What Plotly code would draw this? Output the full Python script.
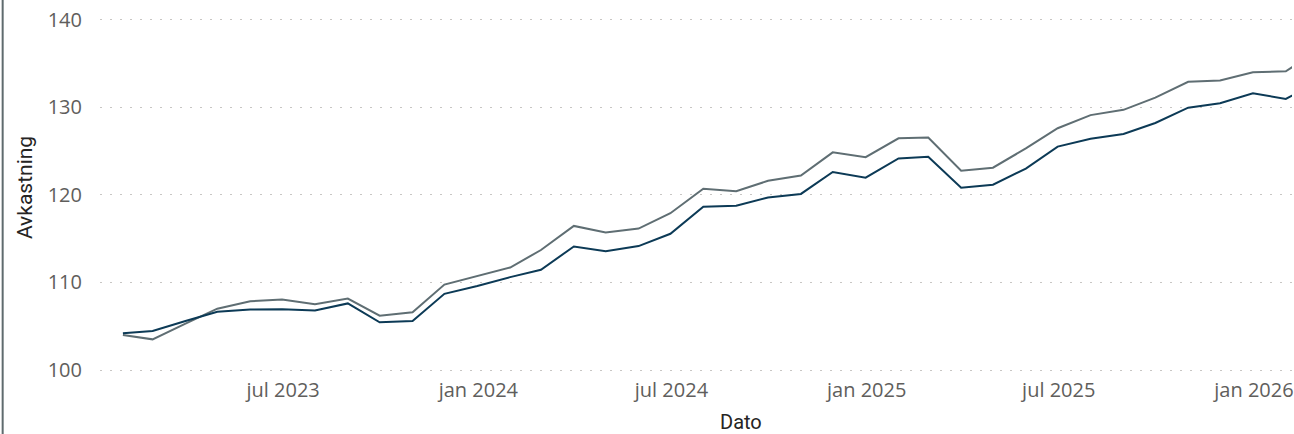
"""Avkastning over tid: portefølje mot referanse, linjediagram med Plotly."""

import pandas as pd
import plotly.graph_objects as go

# Månedsslutt-datoer; diagrammet fortsetter forbi høyre kant (feb 2026)
datoer = list(pd.date_range("2023-01-31", "2026-02-28", freq="ME").strftime("%Y-%m-%d"))

portefolje = [
    104.2, 104.45, 105.6, 106.65, 106.9, 106.95, 106.8, 107.6, 105.45, 105.6,
    108.7, 109.6, 110.6, 111.45, 114.1, 113.55, 114.15, 115.55, 118.65, 118.75,
    119.7, 120.1, 122.6, 121.95, 124.15, 124.35, 120.8, 121.15, 123.0, 125.5,
    126.4, 126.95, 128.2, 129.95, 130.45, 131.6, 130.95, 132.7,
]
referanse = [
    104.0, 103.5, 105.3, 107.0, 107.85, 108.05, 107.5, 108.15, 106.2, 106.6,
    109.75, 110.75, 111.7, 113.7, 116.45, 115.7, 116.15, 117.9, 120.7, 120.4,
    121.6, 122.2, 124.85, 124.3, 126.45, 126.55, 122.75, 123.1, 125.3, 127.6,
    129.1, 129.7, 131.1, 132.9, 133.05, 134.0, 134.1, 136.3,
]

y_ticks = [100, 110, 120, 130, 140]
x_ticks = ["2023-07-01", "2024-01-01", "2024-07-01", "2025-01-01", "2025-07-01", "2026-01-01"]
x_labels = ["jul 2023", "jan 2024", "jul 2024", "jan 2025", "jul 2025", "jan 2026"]

TICK_FONT = "Open Sans, Noto Sans, DejaVu Sans, sans-serif"
TITLE_FONT = "Roboto, Noto Sans, DejaVu Sans, sans-serif"

fig = go.Figure()

fig.add_trace(
    go.Scatter(
        x=datoer,
        y=referanse,
        mode="lines",
        name="Referanse",
        line=dict(color="#5f6e73", width=2),
    )
)
fig.add_trace(
    go.Scatter(
        x=datoer,
        y=portefolje,
        mode="lines",
        name="Portefølje",
        line=dict(color="#0c3a56", width=2),
    )
)

# Kantlinje til venstre (ramme rundt visualet)
fig.add_shape(
    type="line",
    xref="paper",
    yref="paper",
    x0=-97.5 / 1194,
    x1=-97.5 / 1194,
    y0=-59 / 375,
    y1=1,
    line=dict(color="#5f6b6e", width=2),
)

# x-aksetittel: visualet er beskåret til høyre, så tittelen står til høyre for midten
fig.add_annotation(
    text="Dato",
    xref="paper",
    yref="paper",
    x=(742 - 100) / 1194,
    y=-47 / 375,
    xanchor="center",
    yanchor="middle",
    showarrow=False,
    font=dict(family=TITLE_FONT, size=20, color="#252423"),
)

fig.update_layout(
    width=1294,
    height=434,
    margin=dict(l=100, r=0, t=0, b=59),
    plot_bgcolor="white",
    paper_bgcolor="white",
    showlegend=False,
    font=dict(family=TICK_FONT, size=20, color="#605e5c"),
)

fig.update_xaxes(
    range=["2023-01-09 10:00", "2026-02-05 20:00"],
    tickvals=x_ticks,
    ticktext=x_labels,
    showgrid=False,
    showline=False,
    zeroline=False,
    ticklabelstandoff=1,
    ticklabeloverflow="allow",
    tickfont=dict(family=TICK_FONT, size=20, color="#605e5c"),
)

fig.update_yaxes(
    range=[99.43, 142.24],
    tickvals=y_ticks,
    showgrid=True,
    gridcolor="#c8c6c4",
    griddash="2px,8px",
    gridwidth=1,
    showline=False,
    zeroline=False,
    ticklabelstandoff=17,
    tickfont=dict(family=TICK_FONT, size=20, color="#605e5c"),
    title=dict(text="Avkastning", font=dict(family=TITLE_FONT, size=21, color="#252423"), standoff=9),
)

fig.write_html(
    "out.html",
    config={"displayModeBar": False},
    post_script="document.body.style.margin='0';",
)
